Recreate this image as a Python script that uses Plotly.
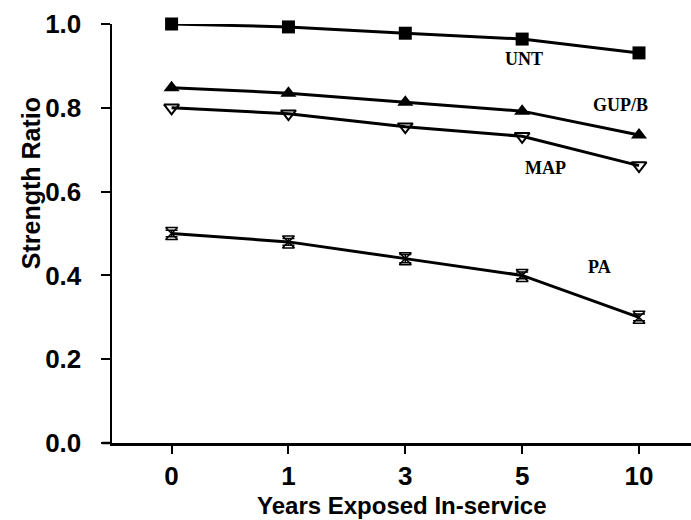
import plotly.graph_objects as go

years = ["0", "1", "3", "5", "10"]
unt = [1.0, 0.993, 0.978, 0.964, 0.931]
gupb = [0.848, 0.835, 0.813, 0.792, 0.735]
map_ = [0.800, 0.786, 0.755, 0.732, 0.662]
pa = [0.500, 0.480, 0.440, 0.400, 0.300]
pa_err = [0.008, 0.008, 0.010, 0.008, 0.008]

label_text = ["UNT", "GUP/B", "MAP", "PA"]
label_x = [3.02, 3.84, 3.20, 3.66]
label_y = [0.916, 0.807, 0.656, 0.42]

fig = go.Figure()
common = dict(mode="lines+markers", line=dict(color="black", width=3), cliponaxis=False, showlegend=False,
              hoverinfo="skip")
fig.add_trace(go.Scatter(x=years, y=unt, marker=dict(symbol="square", size=13, color="black"), **common))
fig.add_trace(go.Scatter(x=years, y=gupb, marker=dict(symbol="triangle-up", size=14, color="black"), **common))
fig.add_trace(go.Scatter(x=years, y=map_, marker=dict(symbol="triangle-down-open", size=13, color="black",
                                                        line=dict(width=2, color="black")), **common))
fig.add_trace(go.Scatter(x=years, y=pa,
                         marker=dict(symbol="hourglass-open", size=12, color="black", line=dict(width=1.5, color="black")),
                         error_y=dict(type="data", array=pa_err, color="black", thickness=1.5, width=6),
                         **common))

for t, x, y in zip(label_text, label_x, label_y):
    fig.add_annotation(x=x, y=y, xref="x", yref="y", text="<b>" + t + "</b>", showarrow=False,
                       xanchor="center", yanchor="middle",
                       font=dict(family="Liberation Serif", size=18, color="black"))

fig.add_annotation(x=-0.14, y=0.62, xref="paper", yref="paper", text="<b>Strength Ratio</b>",
                   textangle=-90, showarrow=False, xanchor="center", yanchor="middle",
                   font=dict(family="Liberation Sans", size=25, color="black"))
fig.add_annotation(x=0.5, y=-0.148, xref="paper", yref="paper", text="<b>Years Exposed In-service</b>",
                   showarrow=False, xanchor="center", yanchor="middle",
                   font=dict(family="Liberation Sans", size=24, color="black"))

fig.add_shape(type="line", xref="paper", yref="paper", x0=-0.017, x1=0, y0=0, y1=0,
              line=dict(color="black", width=2.5))

fig.update_xaxes(type="category", range=[-0.51, 4.445], showline=True, linecolor="black", linewidth=2.5,
                 ticks="outside", ticklen=8, tickwidth=2, tickcolor="black", showgrid=False, zeroline=False,
                 automargin=False,
                 tickfont=dict(family="Liberation Sans", size=26, color="black"), tickprefix="<b>", ticksuffix="</b>")
fig.update_yaxes(range=[0, 1.0], showline=True, linecolor="black", linewidth=2.5,
                 ticks="outside", ticklen=9, tickwidth=2, tickcolor="black", showgrid=False, zeroline=False,
                 automargin=False,
                 tickvals=[0, 0.2, 0.4, 0.6, 0.8, 1.0], ticktext=["<b>0.0</b>", "<b>0.2</b>", "<b>0.4</b>", "<b>0.6</b>", "<b>0.8</b>", "<b>1.0</b>"],
                 ticklabelstandoff=14,
                 tickfont=dict(family="Liberation Sans", size=26, color="black"))

fig.update_layout(width=691, height=520, margin=dict(l=112, r=0, t=24, b=77, autoexpand=False),
                  plot_bgcolor="white", paper_bgcolor="white", hovermode=False)

fig.write_html("out.html", config={"displayModeBar": False, "staticPlot": True},
               post_script="document.body.style.margin='0';document.body.style.padding='0';")
